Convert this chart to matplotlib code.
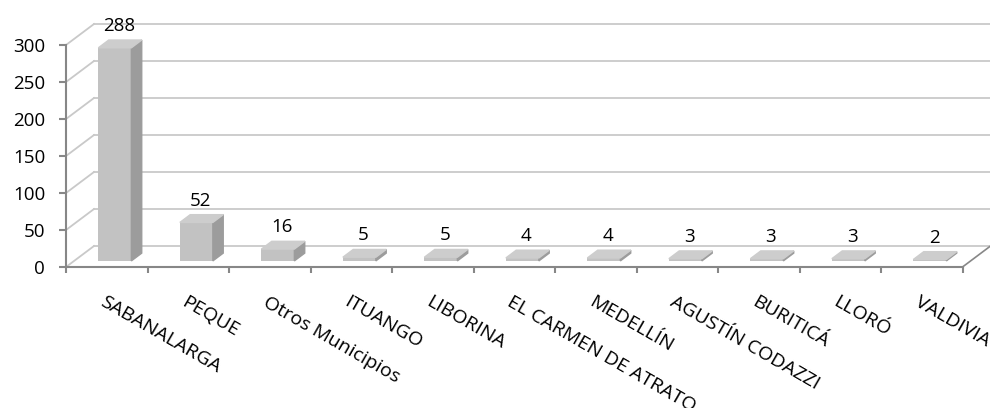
import matplotlib
matplotlib.use('Agg')
import matplotlib.pyplot as plt
from matplotlib.patches import Polygon

municipios = ['SABANALARGA', 'PEQUE', 'Otros Municipios', 'ITUANGO', 'LIBORINA',
              'EL CARMEN DE ATRATO', 'MEDELLÍN', 'AGUSTÍN CODAZZI', 'BURITICÁ',
              'LLORÓ', 'VALDIVIA']
casos = [288, 52, 16, 5, 5, 4, 4, 3, 3, 3, 2]
y_ticks = [0, 50, 100, 150, 200, 250, 300]

plt.rcParams['font.family'] = ['Open Sans', 'DejaVu Sans']

# pixel geometry of the fake 3d box
W, H = 990, 408
x0, y0 = 66, 267          # origin in pixels (from top)
px_cat = 81.5             # pixels per category
px_val = 0.74             # pixels per unit
ddx = 28 / px_cat         # depth offset in data units
ddy = 21 / px_val
n = len(casos)

fig = plt.figure(figsize=(W / 100, H / 100), dpi=100)
ax = fig.add_axes([x0 / W, (H - y0) / H, (W - x0) / W, y0 / H])
ax.set_xlim(0, (W - x0) / px_cat)
ax.set_ylim(0, y0 / px_val)

grid_c = '#c9c9c9'
axis_c = '#878787'

# back wall gridlines and side wall diagonals
for v in y_ticks:
    ax.plot([0, ddx], [v, v + ddy], color=grid_c, lw=1.3, clip_on=False, zorder=1)
    ax.plot([ddx, n + ddx], [v + ddy, v + ddy], color=grid_c, lw=1.3, clip_on=False, zorder=1)
# floor right edge
ax.plot([n, n + ddx], [0, ddy], color=axis_c, lw=1.2, clip_on=False, zorder=1)

# bars
bw = 0.405
f0, f1 = 0.29, 0.66
front_c, side_c, top_c = '#c2c2c2', '#9c9c9c', '#cdcdcd'
xs = [i + 0.5 - bw / 2 + f0 * ddx for i in range(n)]
base = f0 * ddy
ax.bar(xs, casos, bw, bottom=base, align='edge', color=front_c, zorder=3)
dd = (f1 - f0)
for x, v in zip(xs, casos):
    top = base + v
    side = Polygon([(x + bw, base), (x + bw, top), (x + bw + dd * ddx, top + dd * ddy),
                    (x + bw + dd * ddx, base + dd * ddy)], closed=True, color=side_c, zorder=3)
    topf = Polygon([(x, top), (x + bw, top), (x + bw + dd * ddx, top + dd * ddy),
                    (x + dd * ddx, top + dd * ddy)], closed=True, color=top_c, zorder=4)
    ax.add_patch(side)
    ax.add_patch(topf)
    ax.text(x + bw / 2 + 0.05, top + dd * ddy + 9 / px_val, str(v), ha='center',
            va='baseline', fontsize=13.5, color='black')

# axes
for s in ['top', 'right']:
    ax.spines[s].set_visible(False)
ax.spines['left'].set_bounds(0, 300)
ax.spines['bottom'].set_bounds(0, n)
for s in ['left', 'bottom']:
    ax.spines[s].set_color(axis_c)
    ax.spines[s].set_linewidth(1.5)
ax.set_yticks(y_ticks)
ax.set_yticklabels([str(t) for t in y_ticks], fontsize=13.5)
ax.set_xticks(range(n + 1))
ax.set_xticklabels([])
ax.tick_params(axis='y', length=5, width=1.5, color=axis_c, pad=10)
ax.tick_params(axis='x', length=4.5, width=1.5, color=axis_c)

for i, name in enumerate(municipios):
    ax.text(i + 0.5 - 1 / px_cat, -26 / px_val, name, rotation=-30,
            rotation_mode='anchor', ha='left', va='top', fontsize=14,
            color='black', clip_on=False)

fig.savefig('out.png', dpi=100)
